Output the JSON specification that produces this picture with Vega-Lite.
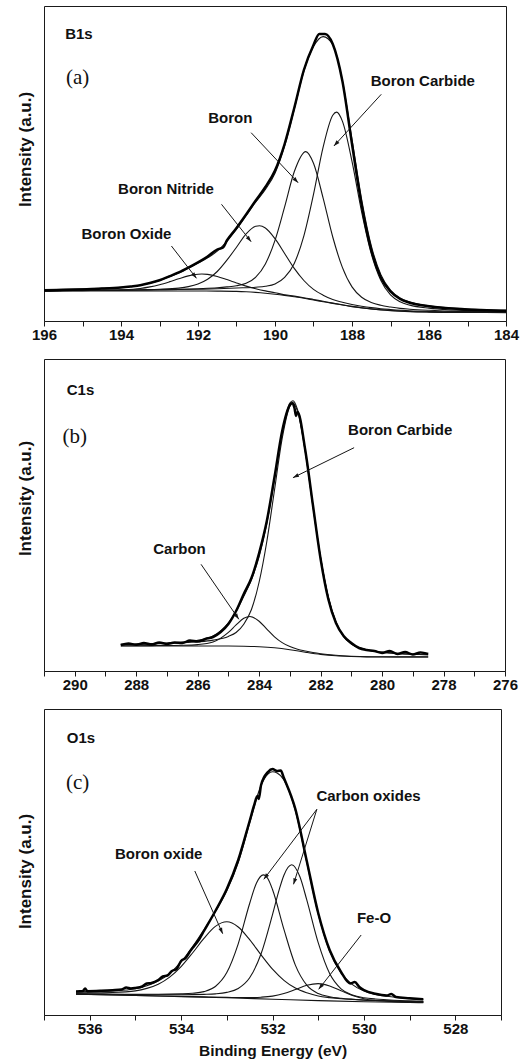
{
  "$schema": "https://vega.github.io/schema/vega-lite/v6.json",
  "padding": {"left": 15, "top": 5, "right": 5, "bottom": 2},
  "background": "white",
  "spacing": 38,
  "bounds": "flush",
  "config": {
    "view": {"stroke": "#1a1a1a", "strokeWidth": 1},
    "axis": {"grid": false, "labelFont": "Liberation Sans Narrow, Liberation Sans", "titleFont": "Liberation Sans", "labelColor": "#111", "titleColor": "#111", "domainColor": "#1a1a1a", "tickColor": "#1a1a1a"}
  },
  "datasets": {
    "ca": [
      {"s":"bg","E":196,"I":30},{"s":"bg","E":192,"I":30},{"s":"bg","E":191.5,"I":29.9},{"s":"bg","E":191,"I":29.6},{"s":"bg","E":190.75,"I":29.2},{"s":"bg","E":190.5,"I":28.6},{"s":"bg","E":190.25,"I":27.8},{"s":"bg","E":190,"I":26.8},{"s":"bg","E":189.75,"I":25.6},{"s":"bg","E":189.5,"I":24.2},{"s":"bg","E":189.25,"I":22.7},{"s":"bg","E":189,"I":21.0},{"s":"bg","E":188.75,"I":19.3},{"s":"bg","E":188.5,"I":17.6},{"s":"bg","E":188.25,"I":16.0},{"s":"bg","E":188,"I":14.4},{"s":"bg","E":187.75,"I":13.1},{"s":"bg","E":187.5,"I":12.0},{"s":"bg","E":187.25,"I":11.1},{"s":"bg","E":187,"I":10.4},{"s":"bg","E":186.5,"I":9.4},{"s":"bg","E":186,"I":8.9},{"s":"bg","E":185.5,"I":8.6},{"s":"bg","E":185,"I":8.5},{"s":"bg","E":184,"I":8.4},
      {"s":"ox","E":196,"I":30.2},{"s":"ox","E":195,"I":30.4},{"s":"ox","E":194.5,"I":30.6},{"s":"ox","E":194,"I":31.1},{"s":"ox","E":193.5,"I":32.5},{"s":"ox","E":193.25,"I":34.1},{"s":"ox","E":193,"I":36.3},{"s":"ox","E":192.75,"I":39.1},{"s":"ox","E":192.5,"I":42.2},{"s":"ox","E":192.25,"I":45.1},{"s":"ox","E":192,"I":46.8},{"s":"ox","E":191.9,"I":47.0},{"s":"ox","E":191.75,"I":46.6},{"s":"ox","E":191.5,"I":44.5},{"s":"ox","E":191.25,"I":41.4},{"s":"ox","E":191,"I":38.1},{"s":"ox","E":190.75,"I":34.9},{"s":"ox","E":190.5,"I":32.3},{"s":"ox","E":190.25,"I":30.1},{"s":"ox","E":190,"I":28.3},{"s":"ox","E":189.75,"I":26.2},{"s":"ox","E":189.5,"I":24.9},{"s":"ox","E":189.25,"I":23.3},{"s":"ox","E":189,"I":21.5},{"s":"ox","E":188.75,"I":19.7},{"s":"ox","E":188.5,"I":17.9},{"s":"ox","E":188.25,"I":16.2},{"s":"ox","E":188,"I":14.6},{"s":"ox","E":187.75,"I":13.2},{"s":"ox","E":187.5,"I":12.1},{"s":"ox","E":187.25,"I":11.2},{"s":"ox","E":187,"I":10.5},{"s":"ox","E":186.5,"I":9.5},{"s":"ox","E":186,"I":9.0},{"s":"ox","E":185.5,"I":8.7},{"s":"ox","E":185,"I":8.6},{"s":"ox","E":184,"I":8.5},
      {"s":"ni","E":196,"I":30.4},{"s":"ni","E":195,"I":30.6},{"s":"ni","E":194.5,"I":30.7},{"s":"ni","E":194,"I":30.9},{"s":"ni","E":193.5,"I":31.3},{"s":"ni","E":193,"I":31.7},{"s":"ni","E":192.5,"I":32.9},{"s":"ni","E":192.25,"I":34.4},{"s":"ni","E":192,"I":37.0},{"s":"ni","E":191.75,"I":41.7},{"s":"ni","E":191.5,"I":49.5},{"s":"ni","E":191.25,"I":60.8},{"s":"ni","E":191,"I":73.8},{"s":"ni","E":190.75,"I":87.2},{"s":"ni","E":190.5,"I":94.8},{"s":"ni","E":190.4,"I":95.3},{"s":"ni","E":190.25,"I":93.0},{"s":"ni","E":190,"I":82.3},{"s":"ni","E":189.75,"I":67.5},{"s":"ni","E":189.5,"I":52.6},{"s":"ni","E":189.25,"I":40.5},{"s":"ni","E":189,"I":31.6},{"s":"ni","E":188.75,"I":25.8},{"s":"ni","E":188.5,"I":21.5},{"s":"ni","E":188.25,"I":18.8},{"s":"ni","E":188,"I":16.5},{"s":"ni","E":187.75,"I":14.8},{"s":"ni","E":187.5,"I":13.4},{"s":"ni","E":187.25,"I":12.3},{"s":"ni","E":187,"I":11.5},{"s":"ni","E":186.5,"I":10.2},{"s":"ni","E":186,"I":9.5},{"s":"ni","E":185.5,"I":9.1},{"s":"ni","E":185,"I":8.9},{"s":"ni","E":184,"I":8.7},
      {"s":"bo","E":196,"I":30.4},{"s":"bo","E":195,"I":30.5},{"s":"bo","E":194,"I":30.8},{"s":"bo","E":193,"I":31.2},{"s":"bo","E":192.5,"I":31.6},{"s":"bo","E":192,"I":32.3},{"s":"bo","E":191.5,"I":33.2},{"s":"bo","E":191.25,"I":34.1},{"s":"bo","E":191,"I":35.3},{"s":"bo","E":190.75,"I":37.7},{"s":"bo","E":190.5,"I":43.9},{"s":"bo","E":190.25,"I":57.1},{"s":"bo","E":190,"I":80.6},{"s":"bo","E":189.75,"I":114.1},{"s":"bo","E":189.5,"I":149.2},{"s":"bo","E":189.2,"I":169.4},{"s":"bo","E":189,"I":157.7},{"s":"bo","E":188.75,"I":122.9},{"s":"bo","E":188.5,"I":84.0},{"s":"bo","E":188.25,"I":53.6},{"s":"bo","E":188,"I":34.1},{"s":"bo","E":187.75,"I":23.8},{"s":"bo","E":187.5,"I":18.5},{"s":"bo","E":187.25,"I":15.7},{"s":"bo","E":187,"I":14.0},{"s":"bo","E":186.75,"I":12.6},{"s":"bo","E":186.5,"I":11.8},{"s":"bo","E":186,"I":10.7},{"s":"bo","E":185.5,"I":9.9},{"s":"bo","E":185,"I":9.6},{"s":"bo","E":184,"I":9.1},
      {"s":"cb","E":196,"I":30.4},{"s":"cb","E":195,"I":30.6},{"s":"cb","E":194,"I":30.8},{"s":"cb","E":193,"I":31.2},{"s":"cb","E":192,"I":31.8},{"s":"cb","E":191.5,"I":32.3},{"s":"cb","E":191,"I":33.0},{"s":"cb","E":190.5,"I":33.8},{"s":"cb","E":190.25,"I":34.7},{"s":"cb","E":190,"I":37.0},{"s":"cb","E":189.75,"I":43.6},{"s":"cb","E":189.5,"I":57.6},{"s":"cb","E":189.25,"I":85.1},{"s":"cb","E":189,"I":126.6},{"s":"cb","E":188.75,"I":173.9},{"s":"cb","E":188.5,"I":205.8},{"s":"cb","E":188.4,"I":208.9},{"s":"cb","E":188.25,"I":199.9},{"s":"cb","E":188,"I":159.6},{"s":"cb","E":187.75,"I":109.1},{"s":"cb","E":187.5,"I":67.3},{"s":"cb","E":187.25,"I":40.5},{"s":"cb","E":187,"I":26.1},{"s":"cb","E":186.75,"I":19.2},{"s":"cb","E":186.5,"I":15.9},{"s":"cb","E":186,"I":12.9},{"s":"cb","E":185.5,"I":11.3},{"s":"cb","E":185,"I":10.5},{"s":"cb","E":184,"I":9.6},
      {"s":"fit","E":196,"I":31.4},{"s":"fit","E":195,"I":32.1},{"s":"fit","E":194.5,"I":32.7},{"s":"fit","E":194,"I":33.6},{"s":"fit","E":193.5,"I":35.8},{"s":"fit","E":193,"I":40.4},{"s":"fit","E":192.75,"I":44.1},{"s":"fit","E":192.5,"I":48.1},{"s":"fit","E":192.25,"I":53.0},{"s":"fit","E":192,"I":57.9},{"s":"fit","E":191.75,"I":63.2},{"s":"fit","E":191.5,"I":69.8},{"s":"fit","E":191.25,"I":79.6},{"s":"fit","E":191,"I":91.8},{"s":"fit","E":190.75,"I":105.5},{"s":"fit","E":190.5,"I":119.0},{"s":"fit","E":190.25,"I":131.5},{"s":"fit","E":190,"I":147.8},{"s":"fit","E":189.75,"I":175.0},{"s":"fit","E":189.5,"I":211.7},{"s":"fit","E":189.25,"I":249.9},{"s":"fit","E":189,"I":274.4},{"s":"fit","E":188.75,"I":284.4},{"s":"fit","E":188.5,"I":276.4},{"s":"fit","E":188.25,"I":240.5},{"s":"fit","E":188,"I":181.6},{"s":"fit","E":187.75,"I":121.7},{"s":"fit","E":187.5,"I":75.3},{"s":"fit","E":187.25,"I":46.4},{"s":"fit","E":187,"I":30.9},{"s":"fit","E":186.75,"I":23.1},{"s":"fit","E":186.5,"I":19.1},{"s":"fit","E":186,"I":15.3},{"s":"fit","E":185.5,"I":13.2},{"s":"fit","E":185,"I":12.0},{"s":"fit","E":184,"I":10.6},
      {"s":"data","E":196,"I":30.5},{"s":"data","E":195.5,"I":30.9},{"s":"data","E":195,"I":31.6},{"s":"data","E":194.5,"I":32.4},{"s":"data","E":194,"I":33.6},{"s":"data","E":193.75,"I":34.6},{"s":"data","E":193.5,"I":35.8},{"s":"data","E":193.25,"I":38},{"s":"data","E":193,"I":40.8},{"s":"data","E":192.75,"I":44.6},{"s":"data","E":192.5,"I":48.6},{"s":"data","E":192.25,"I":53.4},{"s":"data","E":192,"I":58.6},{"s":"data","E":191.75,"I":64.5},{"s":"data","E":191.5,"I":71.5},{"s":"data","E":191.35,"I":73.5},{"s":"data","E":191.25,"I":80.5},{"s":"data","E":191,"I":93},{"s":"data","E":190.75,"I":106.5},{"s":"data","E":190.5,"I":120.5},{"s":"data","E":190.25,"I":134},{"s":"data","E":190,"I":150.5},{"s":"data","E":189.75,"I":177},{"s":"data","E":189.5,"I":213},{"s":"data","E":189.25,"I":251},{"s":"data","E":189,"I":276},{"s":"data","E":188.85,"I":287},{"s":"data","E":188.7,"I":287},{"s":"data","E":188.5,"I":277},{"s":"data","E":188.25,"I":240},{"s":"data","E":188,"I":177},{"s":"data","E":187.75,"I":116},{"s":"data","E":187.5,"I":71},{"s":"data","E":187.25,"I":43.5},{"s":"data","E":187,"I":29.5},{"s":"data","E":186.75,"I":22},{"s":"data","E":186.5,"I":18.3},{"s":"data","E":186,"I":14.8},{"s":"data","E":185.5,"I":12.8},{"s":"data","E":185,"I":11.6},{"s":"data","E":184.5,"I":10.8},{"s":"data","E":184,"I":10.2}
    ],
    "cb": [
      {"s":"bg","E":288.5,"I":25},{"s":"bg","E":285,"I":25},{"s":"bg","E":284.5,"I":24.8},{"s":"bg","E":284,"I":24.3},{"s":"bg","E":283.5,"I":23.2},{"s":"bg","E":283,"I":21.3},{"s":"bg","E":282.5,"I":18.8},{"s":"bg","E":282,"I":16.6},{"s":"bg","E":281.5,"I":15.2},{"s":"bg","E":281,"I":14.5},{"s":"bg","E":280.5,"I":14.1},{"s":"bg","E":280,"I":14},{"s":"bg","E":278.5,"I":14},
      {"s":"cn","E":288.5,"I":25.2},{"s":"cn","E":288,"I":25.3},{"s":"cn","E":287.5,"I":25.4},{"s":"cn","E":287,"I":25.5},{"s":"cn","E":286.5,"I":25.7},{"s":"cn","E":286,"I":26.4},{"s":"cn","E":285.5,"I":29.0},{"s":"cn","E":285,"I":38.6},{"s":"cn","E":284.75,"I":46.1},{"s":"cn","E":284.5,"I":52.7},{"s":"cn","E":284.3,"I":54.5},{"s":"cn","E":284,"I":49.8},{"s":"cn","E":283.75,"I":41.9},{"s":"cn","E":283.5,"I":34.2},{"s":"cn","E":283.25,"I":28.4},{"s":"cn","E":283,"I":24.4},{"s":"cn","E":282.75,"I":21.8},{"s":"cn","E":282.5,"I":20.0},{"s":"cn","E":282.25,"I":18.5},{"s":"cn","E":282,"I":17.3},{"s":"cn","E":281.5,"I":15.7},{"s":"cn","E":281,"I":14.8},{"s":"cn","E":280.5,"I":14.3},{"s":"cn","E":280,"I":14.2},{"s":"cn","E":279,"I":14.1},{"s":"cn","E":278.5,"I":14.1},
      {"s":"cb","E":288.5,"I":26.4},{"s":"cb","E":288,"I":26.6},{"s":"cb","E":287.5,"I":27.0},{"s":"cb","E":287,"I":27.5},{"s":"cb","E":286.5,"I":28.2},{"s":"cb","E":286,"I":29.2},{"s":"cb","E":285.5,"I":30.9},{"s":"cb","E":285,"I":34.6},{"s":"cb","E":284.75,"I":38.5},{"s":"cb","E":284.5,"I":46.8},{"s":"cb","E":284.25,"I":61.5},{"s":"cb","E":284,"I":89.0},{"s":"cb","E":283.75,"I":129.5},{"s":"cb","E":283.5,"I":181.0},{"s":"cb","E":283.25,"I":232.6},{"s":"cb","E":283,"I":264.8},{"s":"cb","E":282.9,"I":267.9},{"s":"cb","E":282.75,"I":259.7},{"s":"cb","E":282.5,"I":219.6},{"s":"cb","E":282.25,"I":164.6},{"s":"cb","E":282,"I":112.9},{"s":"cb","E":281.75,"I":73.6},{"s":"cb","E":281.5,"I":48.5},{"s":"cb","E":281.25,"I":34.3},{"s":"cb","E":281,"I":27.0},{"s":"cb","E":280.5,"I":21.0},{"s":"cb","E":280,"I":18.7},{"s":"cb","E":279.5,"I":17.5},{"s":"cb","E":279,"I":16.7},{"s":"cb","E":278.5,"I":16.2},
      {"s":"fit","E":288.5,"I":26.6},{"s":"fit","E":288,"I":26.9},{"s":"fit","E":287.5,"I":27.4},{"s":"fit","E":287,"I":28.0},{"s":"fit","E":286.5,"I":28.9},{"s":"fit","E":286,"I":30.6},{"s":"fit","E":285.5,"I":34.9},{"s":"fit","E":285,"I":48.2},{"s":"fit","E":284.75,"I":59.7},{"s":"fit","E":284.5,"I":74.7},{"s":"fit","E":284.25,"I":91.4},{"s":"fit","E":284,"I":114.5},{"s":"fit","E":283.75,"I":147.6},{"s":"fit","E":283.5,"I":192.0},{"s":"fit","E":283.25,"I":238.6},{"s":"fit","E":283,"I":267.9},{"s":"fit","E":282.9,"I":270.3},{"s":"fit","E":282.75,"I":261.4},{"s":"fit","E":282.5,"I":220.8},{"s":"fit","E":282.25,"I":165.5},{"s":"fit","E":282,"I":113.6},{"s":"fit","E":281.75,"I":74.2},{"s":"fit","E":281.5,"I":49.0},{"s":"fit","E":281.25,"I":34.7},{"s":"fit","E":281,"I":27.3},{"s":"fit","E":280.5,"I":21.2},{"s":"fit","E":280,"I":18.9},{"s":"fit","E":279.5,"I":17.6},{"s":"fit","E":279,"I":16.8},{"s":"fit","E":278.5,"I":16.3},
      {"s":"data","E":288.5,"I":26},{"s":"data","E":288.25,"I":27.5},{"s":"data","E":288,"I":26.3},{"s":"data","E":287.75,"I":28},{"s":"data","E":287.5,"I":26.5},{"s":"data","E":287.25,"I":28.5},{"s":"data","E":287,"I":27},{"s":"data","E":286.75,"I":28.5},{"s":"data","E":286.5,"I":28},{"s":"data","E":286.25,"I":30.5},{"s":"data","E":286,"I":29.5},{"s":"data","E":285.75,"I":32},{"s":"data","E":285.5,"I":34},{"s":"data","E":285.25,"I":39},{"s":"data","E":285,"I":47},{"s":"data","E":284.75,"I":60},{"s":"data","E":284.5,"I":77},{"s":"data","E":284.25,"I":93},{"s":"data","E":284,"I":118},{"s":"data","E":283.75,"I":150},{"s":"data","E":283.5,"I":194},{"s":"data","E":283.25,"I":240},{"s":"data","E":283,"I":266},{"s":"data","E":282.92,"I":268},{"s":"data","E":282.85,"I":263},{"s":"data","E":282.8,"I":255},{"s":"data","E":282.75,"I":259},{"s":"data","E":282.5,"I":221},{"s":"data","E":282.25,"I":166},{"s":"data","E":282,"I":112},{"s":"data","E":281.75,"I":72},{"s":"data","E":281.5,"I":48},{"s":"data","E":281.25,"I":35},{"s":"data","E":281,"I":28},{"s":"data","E":280.75,"I":23},{"s":"data","E":280.5,"I":21},{"s":"data","E":280.25,"I":20},{"s":"data","E":280,"I":18},{"s":"data","E":279.75,"I":20},{"s":"data","E":279.5,"I":17},{"s":"data","E":279.25,"I":19},{"s":"data","E":279,"I":16.5},{"s":"data","E":278.75,"I":18.5},{"s":"data","E":278.5,"I":17}
    ],
    "cc": [
      {"s":"bg","E":536.3,"I":16.7},{"s":"bg","E":535,"I":15.5},{"s":"bg","E":534,"I":14.4},{"s":"bg","E":533,"I":13.2},{"s":"bg","E":532,"I":11.8},{"s":"bg","E":531,"I":10.4},{"s":"bg","E":530,"I":9.2},{"s":"bg","E":529,"I":8.5},{"s":"bg","E":528.7,"I":8.3},
      {"s":"bx","E":536.3,"I":18.1},{"s":"bx","E":536,"I":18.1},{"s":"bx","E":535.5,"I":18.5},{"s":"bx","E":535,"I":20.1},{"s":"bx","E":534.75,"I":22.6},{"s":"bx","E":534.5,"I":26.8},{"s":"bx","E":534.25,"I":33.9},{"s":"bx","E":534,"I":44.4},{"s":"bx","E":533.75,"I":58.0},{"s":"bx","E":533.5,"I":72.6},{"s":"bx","E":533.25,"I":84.6},{"s":"bx","E":533,"I":89.2},{"s":"bx","E":532.75,"I":84.0},{"s":"bx","E":532.5,"I":71.3},{"s":"bx","E":532.25,"I":56.1},{"s":"bx","E":532,"I":41.8},{"s":"bx","E":531.75,"I":30.7},{"s":"bx","E":531.5,"I":22.9},{"s":"bx","E":531.25,"I":18.2},{"s":"bx","E":531,"I":15.0},{"s":"bx","E":530.75,"I":13.4},{"s":"bx","E":530.5,"I":12.3},{"s":"bx","E":530.25,"I":11.6},{"s":"bx","E":530,"I":10.9},{"s":"bx","E":529.5,"I":10.2},{"s":"bx","E":529,"I":9.5},{"s":"bx","E":528.7,"I":9.2},
      {"s":"c1","E":536.3,"I":17.2},{"s":"c1","E":536,"I":17.0},{"s":"c1","E":535.5,"I":16.8},{"s":"c1","E":535,"I":16.7},{"s":"c1","E":534.5,"I":16.7},{"s":"c1","E":534,"I":17.1},{"s":"c1","E":533.75,"I":17.7},{"s":"c1","E":533.5,"I":19.4},{"s":"c1","E":533.25,"I":24.5},{"s":"c1","E":533,"I":38.4},{"s":"c1","E":532.75,"I":67.2},{"s":"c1","E":532.5,"I":107.5},{"s":"c1","E":532.35,"I":128.0},{"s":"c1","E":532.2,"I":136.1},{"s":"c1","E":532.1,"I":132.2},{"s":"c1","E":532,"I":121.5},{"s":"c1","E":531.75,"I":81.6},{"s":"c1","E":531.5,"I":45.9},{"s":"c1","E":531.25,"I":25.9},{"s":"c1","E":531,"I":17.5},{"s":"c1","E":530.75,"I":14.3},{"s":"c1","E":530.5,"I":12.8},{"s":"c1","E":530.25,"I":11.8},{"s":"c1","E":530,"I":11.0},{"s":"c1","E":529.5,"I":10.1},{"s":"c1","E":529,"I":9.4},{"s":"c1","E":528.7,"I":9.0},
      {"s":"c2","E":536.3,"I":17.2},{"s":"c2","E":536,"I":17.0},{"s":"c2","E":535.5,"I":16.7},{"s":"c2","E":535,"I":16.4},{"s":"c2","E":534.5,"I":16.2},{"s":"c2","E":534,"I":16.2},{"s":"c2","E":533.5,"I":16.6},{"s":"c2","E":533.25,"I":17.1},{"s":"c2","E":533,"I":18.6},{"s":"c2","E":532.75,"I":22.5},{"s":"c2","E":532.5,"I":33.2},{"s":"c2","E":532.25,"I":57.2},{"s":"c2","E":532,"I":96.4},{"s":"c2","E":531.85,"I":121.9},{"s":"c2","E":531.75,"I":135.8},{"s":"c2","E":531.58,"I":146.2},{"s":"c2","E":531.4,"I":134.2},{"s":"c2","E":531.25,"I":111.1},{"s":"c2","E":531,"I":68.3},{"s":"c2","E":530.75,"I":37.5},{"s":"c2","E":530.5,"I":22.2},{"s":"c2","E":530.25,"I":16.0},{"s":"c2","E":530,"I":13.3},{"s":"c2","E":529.75,"I":12.0},{"s":"c2","E":529.5,"I":11.3},{"s":"c2","E":529,"I":10.1},{"s":"c2","E":528.7,"I":9.6},
      {"s":"fe","E":536.3,"I":16.8},{"s":"fe","E":535,"I":15.6},{"s":"fe","E":534,"I":14.6},{"s":"fe","E":533.5,"I":14.1},{"s":"fe","E":533,"I":13.6},{"s":"fe","E":532.75,"I":13.5},{"s":"fe","E":532.5,"I":13.4},{"s":"fe","E":532.25,"I":13.8},{"s":"fe","E":532,"I":14.9},{"s":"fe","E":531.75,"I":17.5},{"s":"fe","E":531.5,"I":21.5},{"s":"fe","E":531.25,"I":25.7},{"s":"fe","E":531,"I":27.4},{"s":"fe","E":530.75,"I":25.0},{"s":"fe","E":530.5,"I":20.2},{"s":"fe","E":530.25,"I":15.5},{"s":"fe","E":530,"I":12.3},{"s":"fe","E":529.75,"I":10.6},{"s":"fe","E":529.5,"I":9.8},{"s":"fe","E":529,"I":8.9},{"s":"fe","E":528.7,"I":8.6},
      {"s":"fit","E":536.3,"I":19.2},{"s":"fit","E":536,"I":19.4},{"s":"fit","E":535.5,"I":20.1},{"s":"fit","E":535,"I":22.3},{"s":"fit","E":534.75,"I":25.3},{"s":"fit","E":534.5,"I":29.9},{"s":"fit","E":534.25,"I":37.7},{"s":"fit","E":534,"I":49.1},{"s":"fit","E":533.75,"I":64.1},{"s":"fit","E":533.5,"I":81.3},{"s":"fit","E":533.25,"I":99.5},{"s":"fit","E":533,"I":120.2},{"s":"fit","E":532.75,"I":148.5},{"s":"fit","E":532.5,"I":187.9},{"s":"fit","E":532.25,"I":225.7},{"s":"fit","E":532.1,"I":237.0},{"s":"fit","E":532,"I":239.2},{"s":"fit","E":531.9,"I":238.1},{"s":"fit","E":531.75,"I":231.1},{"s":"fit","E":531.5,"I":200.4},{"s":"fit","E":531.25,"I":148.5},{"s":"fit","E":531,"I":97.0},{"s":"fit","E":530.75,"I":59.9},{"s":"fit","E":530.5,"I":38.1},{"s":"fit","E":530.25,"I":26.4},{"s":"fit","E":530,"I":19.9},{"s":"fit","E":529.75,"I":16.5},{"s":"fit","E":529.5,"I":14.7},{"s":"fit","E":529,"I":12.4},{"s":"fit","E":528.7,"I":11.5},
      {"s":"data","E":536.3,"I":19.5},{"s":"data","E":536.15,"I":20},{"s":"data","E":536.1,"I":22.5},{"s":"data","E":536.05,"I":19.8},{"s":"data","E":535.75,"I":20.2},{"s":"data","E":535.5,"I":20.8},{"s":"data","E":535.3,"I":21.5},{"s":"data","E":535.2,"I":23.5},{"s":"data","E":535.1,"I":22.5},{"s":"data","E":535,"I":23},{"s":"data","E":534.85,"I":24.5},{"s":"data","E":534.75,"I":27.5},{"s":"data","E":534.65,"I":28},{"s":"data","E":534.5,"I":31},{"s":"data","E":534.4,"I":34.5},{"s":"data","E":534.3,"I":35.5},{"s":"data","E":534.2,"I":40},{"s":"data","E":534.1,"I":42},{"s":"data","E":534,"I":50},{"s":"data","E":533.9,"I":53},{"s":"data","E":533.8,"I":60},{"s":"data","E":533.75,"I":63},{"s":"data","E":533.6,"I":72},{"s":"data","E":533.5,"I":80},{"s":"data","E":533.25,"I":100},{"s":"data","E":533,"I":122},{"s":"data","E":532.75,"I":151},{"s":"data","E":532.5,"I":190},{"s":"data","E":532.4,"I":206},{"s":"data","E":532.33,"I":215},{"s":"data","E":532.3,"I":212},{"s":"data","E":532.25,"I":226},{"s":"data","E":532.1,"I":239},{"s":"data","E":532,"I":242},{"s":"data","E":531.9,"I":240},{"s":"data","E":531.82,"I":240.5},{"s":"data","E":531.75,"I":233},{"s":"data","E":531.5,"I":202},{"s":"data","E":531.25,"I":150},{"s":"data","E":531,"I":98},{"s":"data","E":530.75,"I":61},{"s":"data","E":530.5,"I":39},{"s":"data","E":530.3,"I":27.5},{"s":"data","E":530.2,"I":29},{"s":"data","E":530.1,"I":24},{"s":"data","E":530,"I":21},{"s":"data","E":529.75,"I":17.2},{"s":"data","E":529.5,"I":15.5},{"s":"data","E":529.4,"I":17},{"s":"data","E":529.3,"I":14},{"s":"data","E":529,"I":12.8},{"s":"data","E":528.7,"I":11.8}
    ],
    "ta": [
      {"t":"B1s","E":195.45,"I":287,"k":"id"},
      {"t":"(a)","E":195.43,"I":243,"k":"tag"},
      {"t":"Boron Carbide","E":186.16,"I":240,"k":"ann"},
      {"t":"Boron","E":191.16,"I":203,"k":"ann"},
      {"t":"Boron Nitride","E":192.83,"I":131.7,"k":"ann"},
      {"t":"Boron Oxide","E":193.86,"I":86.7,"k":"ann"}
    ],
    "ra": [
      {"E":187.24,"I":226.7,"E2":188.47,"I2":175},
      {"E":190.62,"I":188.3,"E2":189.40,"I2":138.3},
      {"E":191.39,"I":116.7,"E2":190.62,"I2":79.3},
      {"E":192.69,"I":75,"E2":192.04,"I2":42.7}
    ],
    "ha": [
      {"E":188.47,"I":175,"ang":222.5},
      {"E":189.40,"I":138.3,"ang":137},
      {"E":190.62,"I":79.3,"ang":141.3},
      {"E":192.04,"I":42.7,"ang":142.3}
    ],
    "tb": [
      {"t":"C1s","E":290.26,"I":280.7,"k":"id"},
      {"t":"(b)","E":290.40,"I":234,"k":"tag"},
      {"t":"Boron Carbide","E":279.41,"I":240.7,"k":"ann"},
      {"t":"Carbon","E":286.59,"I":121.7,"k":"ann"}
    ],
    "rb": [
      {"E":280.91,"I":223.3,"E2":282.9,"I2":193.3},
      {"E":285.89,"I":106.7,"E2":284.66,"I2":51.7}
    ],
    "hb": [
      {"E":282.9,"I":193.3,"ang":243.7},
      {"E":284.66,"I":51.7,"ang":145.6}
    ],
    "tc": [
      {"t":"O1s","E":536.5,"I":272.7,"k":"id"},
      {"t":"(c)","E":536.52,"I":228.3,"k":"tag"},
      {"t":"Boron oxide","E":534.49,"I":156.7,"k":"ann"},
      {"t":"Carbon oxides","E":529.9,"I":215,"k":"ann"},
      {"t":"Fe-O","E":529.78,"I":93.3,"k":"ann"}
    ],
    "rc": [
      {"E":533.70,"I":140,"E2":533.09,"I2":77.3},
      {"E":531.03,"I":201.7,"E2":532.19,"I2":131.7},
      {"E":531.03,"I":201.7,"E2":531.54,"I2":126.7},
      {"E":530.06,"I":76,"E2":530.99,"I2":21.7}
    ],
    "hc": [
      {"E":533.09,"I":77.3,"ang":156},
      {"E":532.19,"I":131.7,"ang":217.3},
      {"E":531.54,"I":126.7,"ang":197.3},
      {"E":530.99,"I":21.7,"ang":218.1}
    ]
  },
  "vconcat": [
    {
      "width": 462, "height": 315,
      "encoding": {
        "x": {"field": "E", "type": "quantitative", "scale": {"domain": [184, 196], "reverse": true, "nice": false, "zero": false},
              "axis": {"title": null, "values": [184,185,186,187,188,189,190,191,192,193,194,195,196], "format": "d", "labelExpr": "datum.value % 2 === 0 ? datum.label : ''", "tickSize": 5, "labelPadding": 1, "labelFontSize": 15, "labelFontWeight": "bold", "labelFlush": false, "labelOverlap": false}},
        "y": {"field": "I", "type": "quantitative", "scale": {"domain": [0, 315], "nice": false, "zero": false},
              "axis": {"title": "Intensity (a.u.)", "labels": false, "ticks": false, "domain": false, "titleFontSize": 17, "titleFontWeight": "bold", "titlePadding": 10, "titleY": 143}}
      },
      "layer": [
        {"data": {"name": "ca"}, "transform": [{"filter": "datum.s !== 'data'"}], "mark": {"type": "line", "interpolate": "monotone", "color": "#151515", "strokeWidth": 1.1}, "encoding": {"detail": {"field": "s"}}},
        {"data": {"name": "ca"}, "transform": [{"filter": "datum.s === 'data'"}], "mark": {"type": "line", "interpolate": "monotone", "color": "#000", "strokeWidth": 2.5}, "encoding": {}},
        {"data": {"name": "ra"}, "mark": {"type": "rule", "color": "#151515", "strokeWidth": 1}, "encoding": {"x2": {"field": "E2"}, "y2": {"field": "I2"}}},
        {"data": {"name": "ha"}, "mark": {"type": "point", "shape": "M0,0L-0.8,2.4L0.8,2.4Z", "filled": true, "size": 25, "color": "#151515", "opacity": 1}, "encoding": {"angle": {"field": "ang", "type": "quantitative", "scale": null}}},
        {"data": {"name": "ta"}, "transform": [{"filter": "datum.k === 'ann'"}], "mark": {"type": "text", "font": "Liberation Sans", "fontWeight": "bold", "fontSize": 15, "align": "center", "baseline": "middle", "color": "#111"}, "encoding": {"text": {"field": "t"}}},
        {"data": {"name": "ta"}, "transform": [{"filter": "datum.k === 'id'"}], "mark": {"type": "text", "font": "Liberation Sans", "fontWeight": "bold", "fontSize": 15, "align": "left", "baseline": "middle", "color": "#111"}, "encoding": {"text": {"field": "t"}}},
        {"data": {"name": "ta"}, "transform": [{"filter": "datum.k === 'tag'"}], "mark": {"type": "text", "font": "Liberation Serif", "fontSize": 21, "align": "left", "baseline": "middle", "color": "#111"}, "encoding": {"text": {"field": "t"}}}
      ]
    },
    {
      "width": 461, "height": 312,
      "encoding": {
        "x": {"field": "E", "type": "quantitative", "scale": {"domain": [276, 291], "reverse": true, "nice": false, "zero": false},
              "axis": {"title": null, "values": [276,277,278,279,280,281,282,283,284,285,286,287,288,289,290,291], "format": "d", "labelExpr": "datum.value % 2 === 0 ? datum.label : ''", "tickSize": 5, "labelPadding": 1, "labelFontSize": 15, "labelFontWeight": "bold", "labelFlush": false, "labelOverlap": false}},
        "y": {"field": "I", "type": "quantitative", "scale": {"domain": [0, 312], "nice": false, "zero": false},
              "axis": {"title": "Intensity (a.u.)", "labels": false, "ticks": false, "domain": false, "titleFontSize": 17, "titleFontWeight": "bold", "titlePadding": 10, "titleY": 139}}
      },
      "layer": [
        {"data": {"name": "cb"}, "transform": [{"filter": "datum.s !== 'data'"}], "mark": {"type": "line", "interpolate": "monotone", "color": "#151515", "strokeWidth": 1.1}, "encoding": {"detail": {"field": "s"}}},
        {"data": {"name": "cb"}, "transform": [{"filter": "datum.s === 'data'"}], "mark": {"type": "line", "interpolate": "monotone", "color": "#000", "strokeWidth": 2.5}, "encoding": {}},
        {"data": {"name": "rb"}, "mark": {"type": "rule", "color": "#151515", "strokeWidth": 1}, "encoding": {"x2": {"field": "E2"}, "y2": {"field": "I2"}}},
        {"data": {"name": "hb"}, "mark": {"type": "point", "shape": "M0,0L-0.8,2.4L0.8,2.4Z", "filled": true, "size": 25, "color": "#151515", "opacity": 1}, "encoding": {"angle": {"field": "ang", "type": "quantitative", "scale": null}}},
        {"data": {"name": "tb"}, "transform": [{"filter": "datum.k === 'ann'"}], "mark": {"type": "text", "font": "Liberation Sans", "fontWeight": "bold", "fontSize": 15, "align": "center", "baseline": "middle", "color": "#111"}, "encoding": {"text": {"field": "t"}}},
        {"data": {"name": "tb"}, "transform": [{"filter": "datum.k === 'id'"}], "mark": {"type": "text", "font": "Liberation Sans", "fontWeight": "bold", "fontSize": 15, "align": "left", "baseline": "middle", "color": "#111"}, "encoding": {"text": {"field": "t"}}},
        {"data": {"name": "tb"}, "transform": [{"filter": "datum.k === 'tag'"}], "mark": {"type": "text", "font": "Liberation Serif", "fontSize": 21, "align": "left", "baseline": "middle", "color": "#111"}, "encoding": {"text": {"field": "t"}}}
      ]
    },
    {
      "width": 457, "height": 306,
      "encoding": {
        "x": {"field": "E", "type": "quantitative", "scale": {"domain": [527, 537], "reverse": true, "nice": false, "zero": false},
              "axis": {"title": "Binding Energy (eV)", "values": [527,528,529,530,531,532,533,534,535,536,537], "format": "d", "labelExpr": "datum.value % 2 === 0 ? datum.label : ''", "tickSize": 5, "labelPadding": 1, "labelFontSize": 15, "labelFontWeight": "bold", "labelFlush": false, "labelOverlap": false, "titleFontSize": 15.5, "titleFontWeight": "bold", "titlePadding": 7}},
        "y": {"field": "I", "type": "quantitative", "scale": {"domain": [-4, 302], "nice": false, "zero": false},
              "axis": {"title": "Intensity (a.u.)", "labels": false, "ticks": false, "domain": false, "titleFontSize": 17, "titleFontWeight": "bold", "titlePadding": 10, "titleY": 162}}
      },
      "layer": [
        {"data": {"name": "cc"}, "transform": [{"filter": "datum.s !== 'data'"}], "mark": {"type": "line", "interpolate": "monotone", "color": "#151515", "strokeWidth": 1.1}, "encoding": {"detail": {"field": "s"}}},
        {"data": {"name": "cc"}, "transform": [{"filter": "datum.s === 'data'"}], "mark": {"type": "line", "interpolate": "monotone", "color": "#000", "strokeWidth": 2.5}, "encoding": {}},
        {"data": {"name": "rc"}, "mark": {"type": "rule", "color": "#151515", "strokeWidth": 1}, "encoding": {"x2": {"field": "E2"}, "y2": {"field": "I2"}}},
        {"data": {"name": "hc"}, "mark": {"type": "point", "shape": "M0,0L-0.8,2.4L0.8,2.4Z", "filled": true, "size": 25, "color": "#151515", "opacity": 1}, "encoding": {"angle": {"field": "ang", "type": "quantitative", "scale": null}}},
        {"data": {"name": "tc"}, "transform": [{"filter": "datum.k === 'ann'"}], "mark": {"type": "text", "font": "Liberation Sans", "fontWeight": "bold", "fontSize": 15, "align": "center", "baseline": "middle", "color": "#111"}, "encoding": {"text": {"field": "t"}}},
        {"data": {"name": "tc"}, "transform": [{"filter": "datum.k === 'id'"}], "mark": {"type": "text", "font": "Liberation Sans", "fontWeight": "bold", "fontSize": 15, "align": "left", "baseline": "middle", "color": "#111"}, "encoding": {"text": {"field": "t"}}},
        {"data": {"name": "tc"}, "transform": [{"filter": "datum.k === 'tag'"}], "mark": {"type": "text", "font": "Liberation Serif", "fontSize": 21, "align": "left", "baseline": "middle", "color": "#111"}, "encoding": {"text": {"field": "t"}}}
      ]
    }
  ]
}
